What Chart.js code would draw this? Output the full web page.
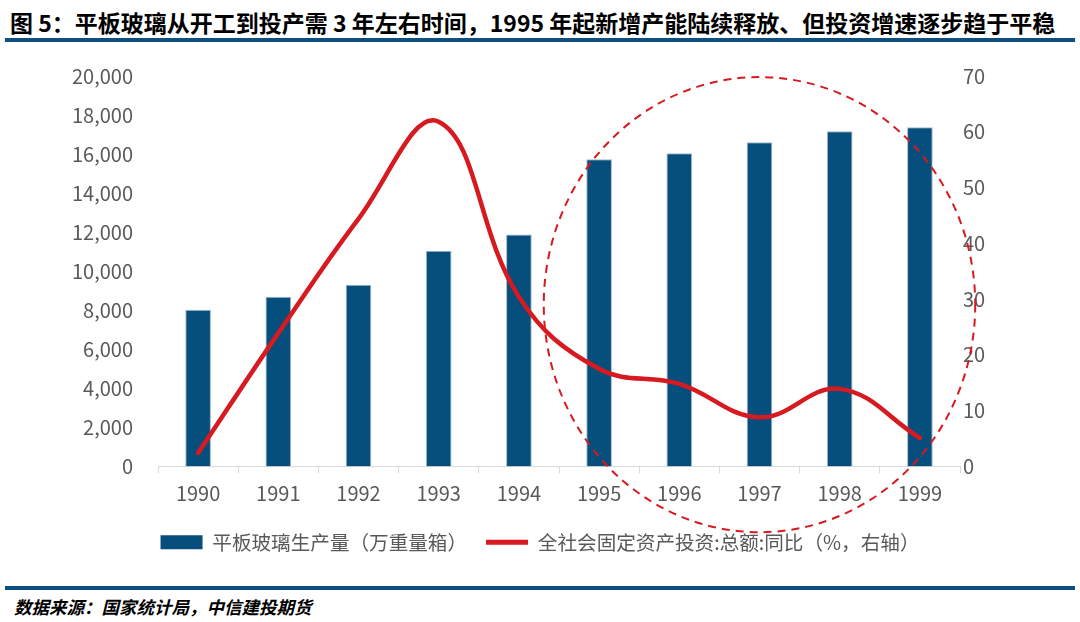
<!DOCTYPE html>
<html>
<head>
<meta charset="utf-8">
<script src="https://cdn.jsdelivr.net/npm/chart.js@4.4.1/dist/chart.umd.min.js"></script>
<style>
  body { margin: 0; background: #fff; width: 1080px; height: 622px; position: relative; overflow: hidden;
         font-family: 'Noto Sans CJK SC', sans-serif; }
  #title { position: absolute; left: 10px; top: 5px; font-size: 23px; font-weight: bold; color: #000; white-space: nowrap; }
  .rule { position: absolute; left: 5px; width: 1070px; height: 4px; background: #0d4f80; }
  #source { position: absolute; left: 14px; top: 594px; font-size: 17.5px; font-weight: bold; font-style: italic; color: #000; }
  #wrap { position: absolute; left: 0; top: 39px; width: 1080px; height: 523px; }
</style>
</head>
<body>
<div id="title">图 5：平板玻璃从开工到投产需 3 年左右时间，1995 年起新增产能陆续释放、但投资增速逐步趋于平稳</div>
<div class="rule" style="top:38px"></div>
<div id="wrap"><canvas id="chartCanvas"></canvas></div>
<div class="rule" style="top:586px"></div>
<div id="source">数据来源：国家统计局，中信建投期货</div>
<script>
const years = ['1990', '1991', '1992', '1993', '1994', '1995', '1996', '1997', '1998', '1999'];
const glassOutput = [8020, 8690, 9310, 11050, 11880, 15730, 16040, 16610, 17170, 17380];
const investYoY = [2.4, 23.9, 44.4, 61.8, 30.4, 17.5, 14.8, 8.8, 13.9, 5.1];
const leftTicks = [0, 20000, 2000];
const rightTicks = [0, 70, 10];

const grey = '#595959';
const blue = '#064e7c';
const red = '#d71920';

// dashed ellipse around 1995-1999
const circlePlugin = {
    id: 'circle',
    afterDraw(chart) {
        const x = chart.scales.x, y1 = chart.scales.y1;
        const step = x.getPixelForValue(1) - x.getPixelForValue(0);
        const cx = x.getPixelForValue(7);
        const cy = y1.getPixelForValue(29);
        const rx = step * 2.69;
        const ry = y1.getPixelForValue(0) - y1.getPixelForValue(40.8);
        const ctx = chart.ctx;
        ctx.save();
        ctx.strokeStyle = red;
        ctx.lineWidth = 2;
        ctx.setLineDash([8, 6]);
        ctx.beginPath();
        ctx.ellipse(cx, cy, rx, ry, 0, 0, Math.PI * 2);
        ctx.stroke();
        ctx.restore();
    }
};

const ctx = document.getElementById('chartCanvas').getContext('2d');
const font = { family: "'Noto Sans CJK SC', sans-serif", size: 20 };

new Chart(ctx, {
    data: {
        labels: years,
        datasets: [{
            type: 'bar',
            label: '平板玻璃生产量（万重量箱）',
            data: glassOutput,
            backgroundColor: blue,
            borderColor: '#9fb9cc',
            borderWidth: 1,
            categoryPercentage: 1,
            barPercentage: 0.32,
            yAxisID: 'y',
            order: 2
        }, {
            type: 'line',
            label: '全社会固定资产投资:总额:同比（%，右轴）',
            data: investYoY,
            borderColor: red,
            backgroundColor: red,
            borderWidth: 4.5,
            pointRadius: 0,
            tension: 0.4,
            borderCapStyle: 'round',
            yAxisID: 'y1',
            order: 1
        }]
    },
    options: {
        responsive: true,
        maintainAspectRatio: false,
        animation: false,
        layout: { padding: { top: 18, left: 0, right: 0, bottom: 0 } },
        plugins: {
            legend: {
                position: 'bottom',
                labels: {
                    color: grey,
                    font: { family: font.family, size: 19.6 },
                    usePointStyle: true,
                    pointStyleWidth: 42,
                    boxHeight: 14,
                    padding: 19,
                    generateLabels(chart) {
                        return chart.data.datasets.map((ds, i) => ({
                            text: ds.label,
                            fillStyle: ds.type === 'bar' ? blue : red,
                            strokeStyle: ds.type === 'bar' ? blue : red,
                            lineWidth: ds.type === 'bar' ? 0 : 5,
                            pointStyle: ds.type === 'bar' ? 'rect' : 'line',
                            fontColor: grey,
                            datasetIndex: i
                        }));
                    }
                }
            },
            tooltip: { enabled: false }
        },
        scales: {
            x: {
                offset: true,
                grid: { offset: true, drawOnChartArea: false, tickLength: 7, color: '#d9d9d9' },
                border: { color: '#d9d9d9' },
                ticks: { color: grey, font: font, padding: 8 }
            },
            y: {
                position: 'left',
                min: leftTicks[0],
                max: leftTicks[1],
                ticks: {
                    stepSize: leftTicks[2],
                    color: grey,
                    font: font,
                    padding: 25,
                    callback: v => v.toLocaleString('en-US')
                },
                grid: { display: false, drawTicks: false },
                border: { display: false },
                afterFit(s) { s.width = 158; }
            },
            y1: {
                position: 'right',
                min: rightTicks[0],
                max: rightTicks[1],
                ticks: { stepSize: rightTicks[2], color: grey, font: font, padding: 3 },
                grid: { display: false, drawTicks: false },
                border: { display: false },
                afterFit(s) { s.width = 120; }
            }
        }
    },
    plugins: [circlePlugin]
});
</script>
</body>
</html>
